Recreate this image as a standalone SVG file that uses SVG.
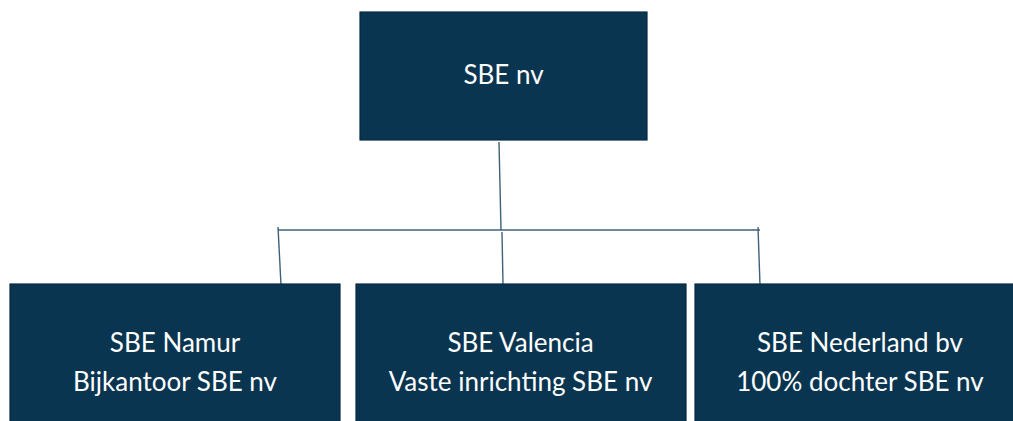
<svg xmlns="http://www.w3.org/2000/svg" width="1013" height="421" viewBox="0 0 1013 421">
<style>
.box{fill:#0a3550;stroke:#082b42;stroke-width:1.2}
.lbl{fill:#ffffff;font-family:Lato,"Open Sans","Liberation Sans",sans-serif;font-size:26px;text-anchor:middle}
.con{stroke:#3f6178;stroke-width:1.4;fill:none}
</style>
<rect width="1013" height="421" fill="#ffffff"/>
<g id="connectors">
<path class="con" d="M499 142 L501 230"/>
<path class="con" d="M278 230 L760 230"/>
<path class="con" d="M278 227 L281 285"/>
<path class="con" d="M502 232 L503 285"/>
<path class="con" d="M758 227 L760 285"/>
</g>
<g id="node-sbe-nv">
<rect class="box" x="360" y="12" width="287" height="128"/>
<text class="lbl" x="503.5" y="84">SBE nv</text>
</g>
<g id="node-namur">
<rect class="box" x="10" y="284" width="330" height="140"/>
<text class="lbl" x="175" y="352">SBE Namur</text>
<text class="lbl" x="175" y="391">Bijkantoor SBE nv</text>
</g>
<g id="node-valencia">
<rect class="box" x="356" y="284" width="330" height="140"/>
<text class="lbl" x="520.5" y="352">SBE Valencia</text>
<text class="lbl" x="520.5" y="391">Vaste inrichting SBE nv</text>
</g>
<g id="node-nederland">
<rect class="box" x="695" y="284" width="330" height="140"/>
<text class="lbl" x="860" y="352">SBE Nederland bv</text>
<text class="lbl" x="860" y="391">100% dochter SBE nv</text>
</g>
</svg>
